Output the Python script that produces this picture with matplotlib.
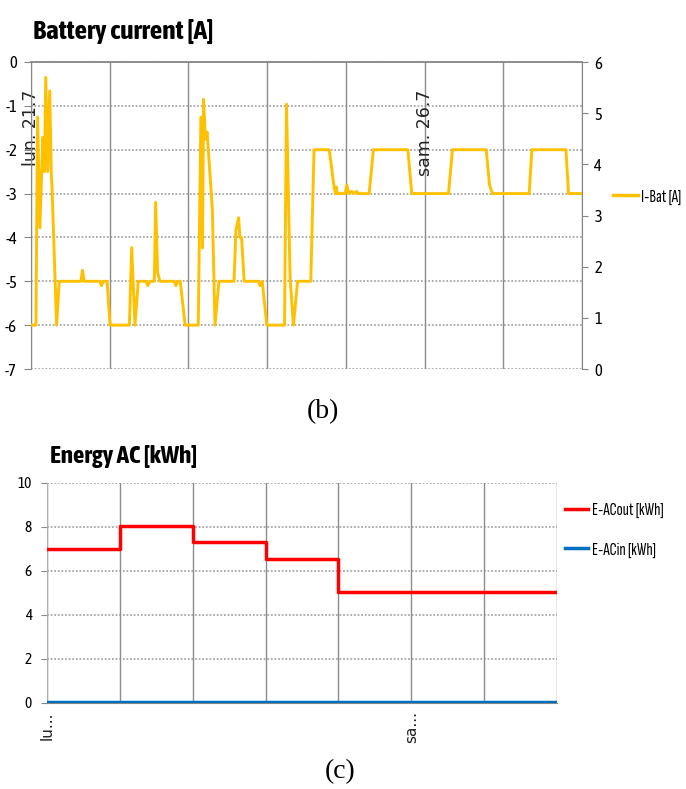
import numpy as np
import matplotlib
matplotlib.use("Agg")
import matplotlib.pyplot as plt
from matplotlib.lines import Line2D

# ---------------- data ----------------
# Battery current (A) vs time (hours since start of lun. 21.7)
bat_hours = [0, 1.5, 2.0, 2.7, 3.6, 4.1, 4.5, 5.1, 5.7, 6.2, 6.4, 7.8, 8.6,
             15.2, 15.7, 16.2, 21.0, 21.5, 22.0, 23.2, 24.1, 30.0, 30.7, 31.7,
             32.7, 35.1, 35.6, 36.3, 37.6, 38.0, 38.6, 39.3, 43.6, 44.2, 44.7,
             45.5, 47.0, 51.0, 51.8, 52.3, 52.6, 53.2, 53.7, 55.3, 56.1, 57.3,
             61.9, 62.5, 63.3, 63.7, 64.2, 65.0, 69.3, 69.8, 70.5, 71.9, 77.3,
             77.9, 79.0, 80.0, 81.3, 85.3, 86.3, 90.9, 91.2, 92.4, 92.8, 93.1,
             93.4, 95.8, 96.3, 96.9, 97.8, 98.3, 99.3, 99.8, 103.1, 104.4,
             114.9, 116.1, 127.3, 128.5, 138.8, 139.8, 140.7, 151.9, 152.7,
             163.1, 163.9, 168.0]
bat_current = [-6, -6, -1.26, -3.78, -1.72, -2.5, -0.35, -2.5, -0.66, -2.6, -2.83, -6, -5,
               -5, -4.75, -5, -5, -5.1, -5, -5, -6, -6, -4.23, -6,
               -5, -5, -5.1, -5, -5, -3.2, -4.8, -5, -5, -5.1, -5,
               -5, -6, -6, -1.26, -4.24, -0.85, -1.76, -1.6, -3.37, -6, -5,
               -5, -3.82, -3.55, -4.0, -4.0, -5, -5, -5.1, -5, -6, -6,
               -0.96, -4.9, -6, -5, -5, -2, -2, -2.15, -2.85, -3.0, -2.85,
               -3.0, -3.0, -2.8, -3.0, -2.95, -3.0, -2.95, -3.0, -3.0, -2.0,
               -2.0, -3.0, -3.0, -2.0, -2.0, -2.8, -3.0, -3.0, -2.0,
               -2.0, -3.0, -3.0]
bat_xticks = [0, 24, 48, 72, 96, 120, 144, 168]
bat_xlabels = ["lun. 21.7", "", "", "", "", "sam. 26.7", "", ""]
bat_yticks = [0, -1, -2, -3, -4, -5, -6, -7]
bat_y2ticks = [0, 1, 2, 3, 4, 5, 6]

# Energy AC (kWh) per day
energy_days = [0, 1, 2, 3, 4, 5, 6]
e_acout = [7.0, 8.05, 7.3, 6.55, 5.05, 5.05, 5.05]
e_acin = [0.05, 0.05, 0.05, 0.05, 0.05, 0.05, 0.05]
en_xticks = [0, 1, 2, 3, 4, 5, 6, 7]
en_xlabels = ["lu...", "", "", "", "", "sa...", "", ""]
en_yticks = [0, 2, 4, 6, 8, 10]

# ---------------- style ----------------
TITLE_F = ["Asap Condensed", "DejaVu Sans"]
TICK_F = ["Asap Condensed", "DejaVu Sans"]
LEG_F = ["Sofia Sans Extra Condensed", "DejaVu Sans"]
CAT_F = ["DejaVu Sans"]
GRID_DOT = dict(color="#a8a8a8", linestyle=(0, (1, 1)), linewidth=1.3)
VGRID = "#8c8c8c"
AXC = "#868686"

W, H = 686, 789
fig = plt.figure(figsize=(W / 100, H / 100), dpi=100)
renderer = fig.canvas.get_renderer()

def fx(px):
    return px / W

def fy(py):
    return 1 - py / H

def fit_width(t, target_px):
    w = t.get_window_extent(renderer).width
    t.set_fontsize(t.get_fontsize() * target_px / w)

# ---------------- top chart ----------------
ax = fig.add_axes([fx(31), fy(369), fx(582) - fx(31), fy(62) - fy(369)])
ax.set_xlim(0, 168)
ax.set_ylim(-7, 0)
for y in bat_yticks:
    ax.axhline(y, **GRID_DOT, zorder=1)
for x in bat_xticks:
    ax.axvline(x, color=VGRID, linewidth=1.0, zorder=1)
ax.plot(bat_hours, bat_current, color="#FFC000", linewidth=2.1, zorder=3,
        solid_joinstyle="round")
ax.spines["bottom"].set_position(("data", 0))
ax.spines["bottom"].set_color(AXC)
ax.spines["bottom"].set_linewidth(1.3)
ax.spines["top"].set_visible(False)
ax.spines["right"].set_visible(False)
ax.spines["left"].set_color(AXC)
ax.set_xticks(bat_xticks)
ax.set_xticklabels(bat_xlabels, rotation=90, ha="center", va="top",
                   fontsize=12.5, color="#222222", family=CAT_F)
ax.tick_params(axis="x", length=0, pad=20)
ax.set_yticks(bat_yticks)
ax.set_yticklabels([str(v) for v in bat_yticks], family=TICK_F, fontsize=12)
ax.tick_params(axis="y", length=5, color=AXC, pad=5)

ax2 = ax.twinx()
ax2.set_ylim(0, 6)
ax2.set_yticks(bat_y2ticks)
ax2.set_yticklabels([str(v) for v in bat_y2ticks], family=TICK_F, fontsize=12)
ax2.tick_params(axis="y", length=4, color=AXC, pad=5)
for s in ["top", "left", "bottom"]:
    ax2.spines[s].set_visible(False)
ax2.spines["right"].set_color(AXC)

t1 = fig.text(fx(33), fy(39), "Battery current [A]", family=TITLE_F,
              fontweight="bold", fontsize=20, va="baseline", ha="left")
fit_width(t1, 180)
fig.legend(handles=[Line2D([], [], color="#FFC000", linewidth=2.5)],
           labels=["I-Bat [A]"], loc="center left",
           bbox_to_anchor=(fx(613), fy(197)), frameon=False,
           prop={"family": LEG_F, "size": 13}, handlelength=1.4,
           handletextpad=0.17, borderaxespad=0, borderpad=0)
fig.text(fx(323), fy(412), "(b)", family="Liberation Serif", fontsize=20,
         ha="center", va="center")

# ---------------- bottom chart ----------------
bx = fig.add_axes([fx(47), fy(703), fx(557) - fx(47), fy(483) - fy(703)])
bx.set_xlim(0, 7)
bx.set_ylim(0, 10)
for y in en_yticks[1:]:
    bx.axhline(y, **GRID_DOT, zorder=1)
for x in en_xticks:
    bx.axvline(x, color=VGRID, linewidth=1.0, zorder=1)
bx.step(energy_days + [7], e_acout + [e_acout[-1]], where="post",
        color="#FF0000", linewidth=2.5, zorder=3)
bx.plot(energy_days + [7], e_acin + [e_acin[-1]], color="#0070C0",
        linewidth=2.5, zorder=3)
for s in ["top", "right"]:
    bx.spines[s].set_visible(False)
bx.spines["left"].set_color("#b0b0b0")
bx.spines["bottom"].set_color(AXC)
bx.set_xticks(en_xticks)
bx.set_xticklabels(en_xlabels, rotation=90, ha="center", va="top",
                   fontsize=11, color="#222222", family=CAT_F)
bx.tick_params(axis="x", length=0, pad=6)
bx.set_yticks(en_yticks)
bx.set_yticklabels([str(v) for v in en_yticks], family=TICK_F, fontsize=11)
bx.tick_params(axis="y", length=4, color=AXC, pad=7)

t2 = fig.text(fx(50), fy(463), "Energy AC [kWh]", family=TITLE_F,
              fontweight="bold", fontsize=19, va="baseline", ha="left")
fit_width(t2, 147)
fig.legend(handles=[Line2D([], [], color="#FF0000", linewidth=2.5),
                    Line2D([], [], color="#0070C0", linewidth=2.5)],
           labels=["E-ACout [kWh]", "E-ACin [kWh]"], loc="center left",
           bbox_to_anchor=(fx(565), fy(530)), frameon=False,
           prop={"family": LEG_F, "size": 13}, handlelength=1.3,
           handletextpad=0.17, borderaxespad=0, borderpad=0, labelspacing=1.3)
fig.text(fx(340), fy(772), "(c)", family="Liberation Serif", fontsize=20,
         ha="center", va="center")

fig.savefig("out.png", dpi=100)
